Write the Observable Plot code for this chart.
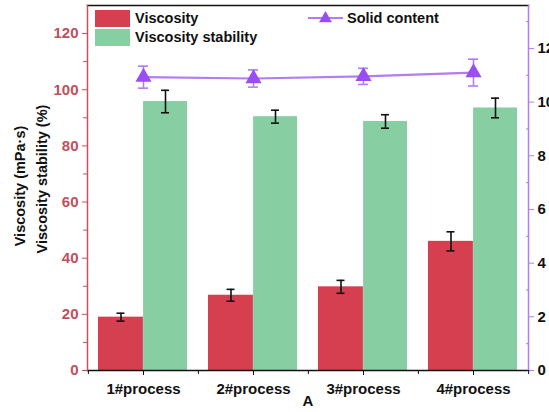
<!DOCTYPE html>
<html>
<head>
<meta charset="utf-8">
<script src="https://cdn.jsdelivr.net/npm/d3@7"></script>
<script src="https://cdn.jsdelivr.net/npm/@observablehq/plot@0.6"></script>
<style>
  html, body { margin: 0; padding: 0; background: #fff; }
  #wrap { position: relative; width: 549px; height: 412px; font-family: "Liberation Sans", Arial, sans-serif; }
  .leg { position: absolute; font-weight: bold; font-size: 14.5px; color: #111; line-height: 17px; white-space: nowrap; }
  .sw { position: absolute; }
</style>
</head>
<body>
<div id="wrap"></div>
<script>
const categories = ["1#process", "2#process", "3#process", "4#process"];
const viscosity = [19.0, 26.8, 29.8, 46.0];
const viscosityErr = [1.4, 2.1, 2.3, 3.4];
const stability = [95.8, 90.4, 88.7, 93.5];
const stabilityErr = [4.0, 2.3, 2.4, 3.5];
const solidContent = [10.93, 10.88, 10.96, 11.1];
const solidErr = [0.41, 0.32, 0.30, 0.50];
const leftTicks = [0, 20, 40, 60, 80, 100, 120];
const rightTicks = [0, 2, 4, 6, 8, 10, 12];

const RED = "#d63f4f", GREEN = "#88cea3", PURPLE = "#9a4cf5", PURPLE_LINE = "#b17cf4";
const AXIS_RED = "#c9505e", LABEL_RED = "#c0505c";
const yMax = 130, rMax = 13.6, k = yMax / rMax;

const rows = categories.map((c, i) => ({
  cat: c,
  v: viscosity[i], ve: viscosityErr[i],
  s: stability[i], se: stabilityErr[i],
  sc: solidContent[i] * k, sce: solidErr[i] * k
}));

const font = {fontSize: 15, fontWeight: "bold"};

const chart = Plot.plot({
  width: 549, height: 412,
  marginLeft: 87, marginRight: 21, marginTop: 5, marginBottom: 42,
  style: {fontFamily: "'Liberation Sans', Arial, sans-serif", background: "white", overflow: "visible"},
  x: {domain: categories, padding: 0, axis: null},
  y: {domain: [0, yMax], axis: null},
  marks: [
    // bars
    Plot.barY(rows, {x: "cat", y: "v", fill: RED, insetLeft: 10, insetRight: 55.1}),
    Plot.barY(rows, {x: "cat", y: "s", fill: GREEN, insetLeft: 55.1, insetRight: 11}),
    // error bars viscosity
    Plot.ruleX(rows, {x: "cat", y1: d => d.v - d.ve, y2: d => d.v + d.ve, dx: -22.5, stroke: "#111", strokeWidth: 1.6}),
    Plot.tickY(rows, {x: "cat", y: d => d.v - d.ve, dx: -22.5, inset: 51, stroke: "#111", strokeWidth: 1.6}),
    Plot.tickY(rows, {x: "cat", y: d => d.v + d.ve, dx: -22.5, inset: 51, stroke: "#111", strokeWidth: 1.6}),
    // error bars stability
    Plot.ruleX(rows, {x: "cat", y1: d => d.s - d.se, y2: d => d.s + d.se, dx: 22, stroke: "#111", strokeWidth: 1.6}),
    Plot.tickY(rows, {x: "cat", y: d => d.s - d.se, dx: 22, inset: 51, stroke: "#111", strokeWidth: 1.6}),
    Plot.tickY(rows, {x: "cat", y: d => d.s + d.se, dx: 22, inset: 51, stroke: "#111", strokeWidth: 1.6}),
    // solid content line
    Plot.line(rows, {x: "cat", y: "sc", stroke: PURPLE_LINE, strokeWidth: 2.2}),
    Plot.ruleX(rows, {x: "cat", y1: d => d.sc - d.sce, y2: d => d.sc + d.sce, stroke: PURPLE_LINE, strokeWidth: 1.6}),
    Plot.tickY(rows, {x: "cat", y: d => d.sc - d.sce, inset: 50, stroke: PURPLE_LINE, strokeWidth: 1.6}),
    Plot.tickY(rows, {x: "cat", y: d => d.sc + d.sce, inset: 50, stroke: PURPLE_LINE, strokeWidth: 1.6}),
    Plot.dot(rows, {x: "cat", y: "sc", symbol: "triangle", r: 6, fill: PURPLE, stroke: "none"}),
    // frame lines
    Plot.frame({anchor: "top", stroke: "#111", strokeWidth: 1.5}),
    Plot.frame({anchor: "bottom", stroke: "#111", strokeWidth: 1.5}),
    Plot.frame({anchor: "left", stroke: AXIS_RED, strokeWidth: 1.5}),
    Plot.frame({anchor: "right", stroke: PURPLE_LINE, strokeWidth: 1.5}),
    // left axis
    Plot.axisY(leftTicks, {anchor: "left", tickSize: 5, tickPadding: 4, stroke: AXIS_RED, fill: LABEL_RED, ...font, label: null}),
    Plot.axisY(d3.range(10, 130, 20), {anchor: "left", tickSize: 4, stroke: AXIS_RED, tickFormat: null, text: null, label: null}),
    // right axis
    Plot.axisY(rightTicks.map(v => v * k), {anchor: "right", tickSize: 5, tickPadding: 4, stroke: PURPLE_LINE, fill: "#111", ...font, tickFormat: d => Math.round(d / k), label: null}),
    Plot.axisY(d3.range(1, 14, 2).map(v => v * k), {anchor: "right", tickSize: -3, stroke: PURPLE_LINE, text: null, label: null}),
    // x axis
    Plot.axisX(categories, {anchor: "bottom", tickSize: 5, tickPadding: 8, stroke: "#111", fill: "#111", ...font, label: null}),
    Plot.axisX(categories, {anchor: "bottom", tickSize: 4, dx: -55.1, stroke: "#111", text: null, label: null}),
    Plot.axisX(categories.slice(-1), {anchor: "bottom", tickSize: 4, dx: 55.1, stroke: "#111", text: null, label: null}),
    // axis titles
    Plot.text(["A"], {frameAnchor: "bottom", dy: 35, fontSize: 15, fontWeight: "bold", fill: "#111"}),
    Plot.text(["Viscosity (mPa·s)"], {frameAnchor: "left", textAnchor: "middle", rotate: -90, dx: -67, dy: -2, fontSize: 14.5, fontWeight: "bold", fill: "#111"}),
    Plot.text(["Viscosity stability (%)"], {frameAnchor: "left", textAnchor: "middle", rotate: -90, dx: -45, dy: -9, fontSize: 14.5, fontWeight: "bold", fill: "#111"})
  ]
});

const wrap = document.getElementById("wrap");
wrap.appendChild(chart);

// legend (HTML overlay)
const legend = [
  {label: "Viscosity", color: RED, left: 95, top: 10},
  {label: "Viscosity stability", color: GREEN, left: 95, top: 29}
];
for (const l of legend) {
  const sw = document.createElement("div");
  sw.className = "sw";
  Object.assign(sw.style, {left: l.left + "px", top: l.top + "px", width: "35px", height: "17px", background: l.color});
  wrap.appendChild(sw);
  const t = document.createElement("div");
  t.className = "leg";
  t.textContent = l.label;
  Object.assign(t.style, {left: (l.left + 40) + "px", top: (l.top) + "px"});
  wrap.appendChild(t);
}
const solidLeg = document.createElementNS("http://www.w3.org/2000/svg", "svg");
solidLeg.setAttribute("width", "40"); solidLeg.setAttribute("height", "20");
Object.assign(solidLeg.style, {position: "absolute", left: "306px", top: "8px"});
solidLeg.innerHTML = `<line x1="2" y1="10" x2="37" y2="10" stroke="${PURPLE_LINE}" stroke-width="2.2"/>` +
  `<path d="${d3.symbol(d3.symbolTriangle, 72)()}" transform="translate(19.5,10.5)" fill="${PURPLE}"/>`;
wrap.appendChild(solidLeg);
const st = document.createElement("div");
st.className = "leg";
st.textContent = "Solid content";
Object.assign(st.style, {left: "347px", top: "10px"});
wrap.appendChild(st);
</script>
</body>
</html>
